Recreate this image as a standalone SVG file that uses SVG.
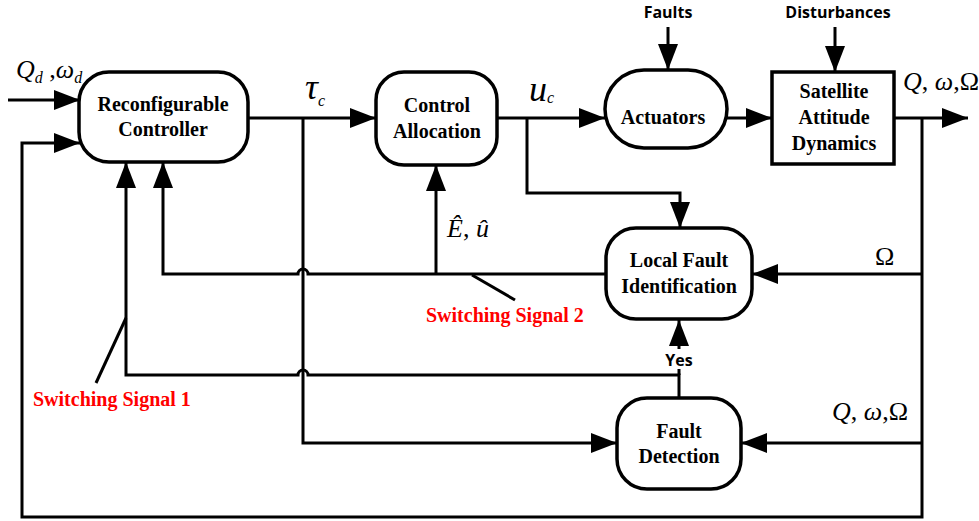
<svg xmlns="http://www.w3.org/2000/svg" width="979" height="521" viewBox="0 0 979 521">
<defs>
<marker id="ah" viewBox="0 0 26 20" refX="26" refY="10" markerWidth="26" markerHeight="20" markerUnits="userSpaceOnUse" orient="auto">
<path d="M0,0 L26,10 L0,20 z" fill="#000"/>
</marker>
<style>
.node{fill:#fff;stroke:#000;stroke-width:3.5}
.lbl{font-family:"Liberation Serif","Times New Roman",serif;font-weight:bold;font-size:20px;fill:#000;text-anchor:middle}
.red{font-family:"Liberation Serif","Times New Roman",serif;font-weight:bold;font-size:20px;fill:#ff0000}
.sans{font-family:"Open Sans","DejaVu Sans",sans-serif;font-weight:bold;font-size:16px;fill:#000;text-anchor:middle}
.math{font-family:"Liberation Serif","Times New Roman",serif;font-size:26px;fill:#000}
.big{font-size:36px}
.sub{font-size:16px}
.it{font-style:italic}
.wire{fill:none;stroke:#000;stroke-width:3}
.arr{fill:none;stroke:#000;stroke-width:3;marker-end:url(#ah)}
</style>
</defs>
<rect width="979" height="521" fill="#fff"/>
<g id="connectors">
<path class="arr" d="M8,100 H80"/>
<path class="arr" d="M922,118 V517 H22 V143 H80"/>
<path class="arr" d="M248,118 H376"/>
<path class="arr" d="M303,118 V443 H617"/>
<path class="arr" d="M497,118 H605"/>
<path class="arr" d="M527,118 V193 H680 V228"/>
<path class="arr" d="M727,118 H772"/>
<path class="arr" d="M894,118 H968"/>
<path class="arr" d="M668,27 V70"/>
<path class="arr" d="M835,27 V72"/>
<path class="arr" d="M922,274 H752"/>
<path class="arr" d="M606,274 H308 A5,5 0 0 0 298,274 H163 V162"/>
<path class="arr" d="M436,274 V165"/>
<path class="wire" d="M472,275 L515,300"/>
<path class="arr" d="M679,398 V375 H308 A5,5 0 0 0 298,375 H126 V162"/>
<path class="arr" d="M679,349 V320"/>
<path class="wire" d="M679,375 V369"/>
<path class="wire" d="M126,318 L96,383"/>
<path class="arr" d="M922,443 H741"/>
</g>
<g id="reconfigurable-controller">
<rect class="node" x="79" y="72" width="169" height="90" rx="30"/>
<text class="lbl" x="163" y="111">Reconfigurable</text>
<text class="lbl" x="163" y="136">Controller</text>
</g>
<g id="control-allocation">
<rect class="node" x="376" y="72" width="121" height="93" rx="28"/>
<text class="lbl" x="437" y="112">Control</text>
<text class="lbl" x="437" y="138">Allocation</text>
</g>
<g id="actuators">
<rect class="node" x="605" y="70" width="122" height="78" rx="39"/>
<text class="lbl" x="663" y="124">Actuators</text>
</g>
<g id="satellite-attitude-dynamics">
<rect class="node" x="772" y="72" width="122" height="92"/>
<text class="lbl" x="834" y="98">Satellite</text>
<text class="lbl" x="834" y="124">Attitude</text>
<text class="lbl" x="834" y="150">Dynamics</text>
</g>
<g id="local-fault-identification">
<rect class="node" x="606" y="228" width="146" height="91" rx="30"/>
<text class="lbl" x="679" y="267">Local Fault</text>
<text class="lbl" x="679" y="293">Identification</text>
</g>
<g id="fault-detection">
<rect class="node" x="617" y="398" width="124" height="91" rx="30"/>
<text class="lbl" x="679" y="438">Fault</text>
<text class="lbl" x="679" y="463">Detection</text>
</g>
<g id="labels">
<text class="sans" x="668" y="18">Faults</text>
<text class="sans" x="838" y="18">Disturbances</text>
<text class="sans" x="679" y="366">Yes</text>
<text class="red" x="426" y="322">Switching Signal 2</text>
<text class="red" x="33" y="406">Switching Signal 1</text>
<text class="math" x="16" y="78"><tspan class="it">Q</tspan><tspan class="it sub" dy="5">d</tspan><tspan dy="-5"> ,</tspan><tspan class="it">ω</tspan><tspan class="it sub" dy="5">d</tspan></text>
<text class="math big" x="305" y="99"><tspan class="it">τ</tspan><tspan class="it sub" dy="7">c</tspan></text>
<text class="math big" x="529" y="101"><tspan class="it">u</tspan><tspan class="it sub" dy="2">c</tspan></text>
<text class="math" x="903" y="90"><tspan class="it">Q</tspan>, <tspan class="it">ω</tspan>,Ω</text>
<text class="math" x="875" y="265">Ω</text>
<text class="math" x="447" y="237"><tspan class="it">Ê</tspan>, <tspan class="it">û</tspan></text>
<text class="math" x="832" y="420"><tspan class="it">Q</tspan>, <tspan class="it">ω</tspan>,Ω</text>
</g>
</svg>
